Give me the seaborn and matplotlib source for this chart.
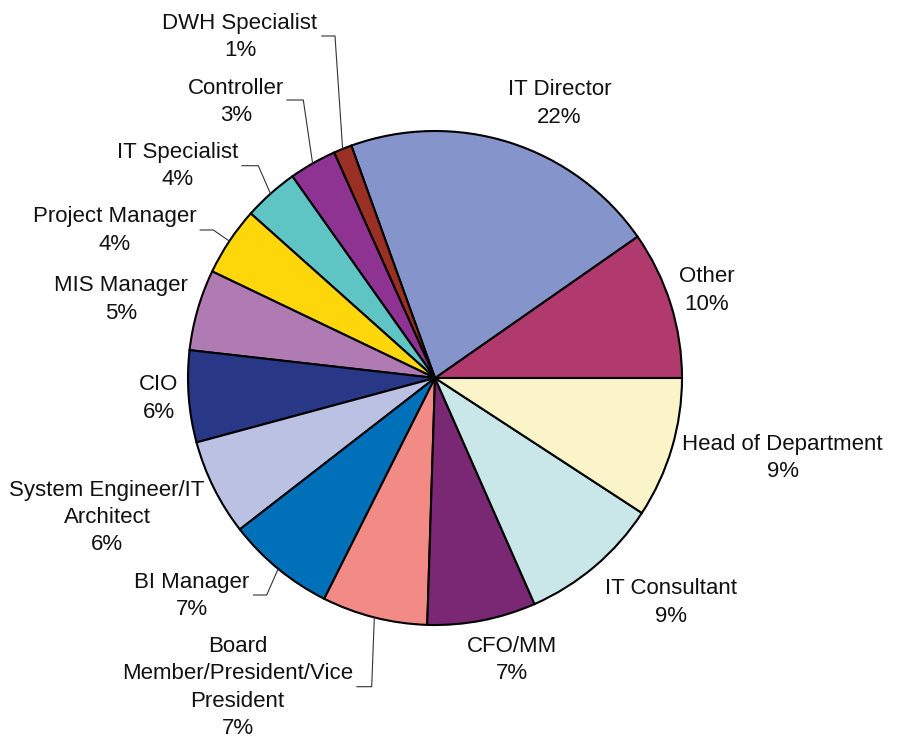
import numpy as np
import matplotlib
matplotlib.use("Agg")
import matplotlib.pyplot as plt
import seaborn as sns

# slices, counter-clockwise from 3 o'clock
roles = ["Other", "IT Director", "DWH Specialist", "Controller", "IT Specialist",
         "Project Manager", "MIS Manager", "CIO", "System Engineer/IT\nArchitect",
         "BI Manager", "Board\nMember/President/Vice\nPresident", "CFO/MM",
         "IT Consultant", "Head of Department"]
shares = [9.7, 20.8, 1.2, 3.1, 3.6, 4.5, 5.3, 6.0, 6.3, 7.1, 6.9, 7.1, 9.2, 9.2]
pct_labels = ["10%", "22%", "1%", "3%", "4%", "4%", "5%", "6%", "6%",
              "7%", "7%", "7%", "9%", "9%"]
colors = ["#B03A6E", "#8594CA", "#9A3024", "#8E3391", "#5FC5C4", "#FDD70A",
          "#B07AB3", "#283886", "#BAC1E2", "#0070B8", "#F28A86", "#7A2873",
          "#C9E7E9", "#FAF4C8"]

sns.set_style("white")
plt.rcParams["font.family"] = ["Liberation Sans", "DejaVu Sans"]

W, H = 898, 736
fig = plt.figure(figsize=(W / 100, H / 100), dpi=100)
ax = fig.add_axes([0, 0, 1, 1])

cx, cy, r = 435, H - 378, 247
wedges, _ = ax.pie(shares, colors=sns.color_palette(colors), startangle=0,
                   counterclock=True, center=(cx, cy), radius=r,
                   wedgeprops=dict(edgecolor="black", linewidth=1.5))
ax.set_xlim(0, W)
ax.set_ylim(0, H)
ax.set_aspect("equal")
ax.axis("off")

# label block centres (pixel coords, y from top)
label_pos = [(707, 290.5), (559.5, 103.5), (240, 37), (236.3, 101.7), (178, 166),
             (115, 230.3), (121.3, 299.7), (158.8, 398.7), (107, 517.5),
             (191.7, 596), (237.5, 687.5), (511.7, 660), (670.7, 602.5),
             (782.5, 458)]
for name, pct, (x, y) in zip(roles, pct_labels, label_pos):
    ax.text(x, H - y, f"{name}\n{pct}", ha="center", va="center",
            fontsize=16, linespacing=1.4, color="#111111")

# leader lines: text end -> knee -> slice edge
leaders = {2: [(321.7, 36), (335, 36)], 3: [(286.7, 100), (303.3, 100)],
           4: [(241.7, 165.7), (258.3, 165.7)], 5: [(200, 230), (213.3, 230)],
           9: [(253.3, 595), (266.7, 595)], 10: [(356.7, 686.7), (371.7, 686.7)]}
for i, pts in leaders.items():
    w = wedges[i]
    mid = np.deg2rad((w.theta1 + w.theta2) / 2)
    ex, ey = cx + r * np.cos(mid), cy + r * np.sin(mid)
    xs = [p[0] for p in pts] + [ex]
    ys = [H - p[1] for p in pts] + [ey]
    ax.plot(xs, ys, color="#333333", lw=0.8)

fig.savefig("out.png", dpi=100)
